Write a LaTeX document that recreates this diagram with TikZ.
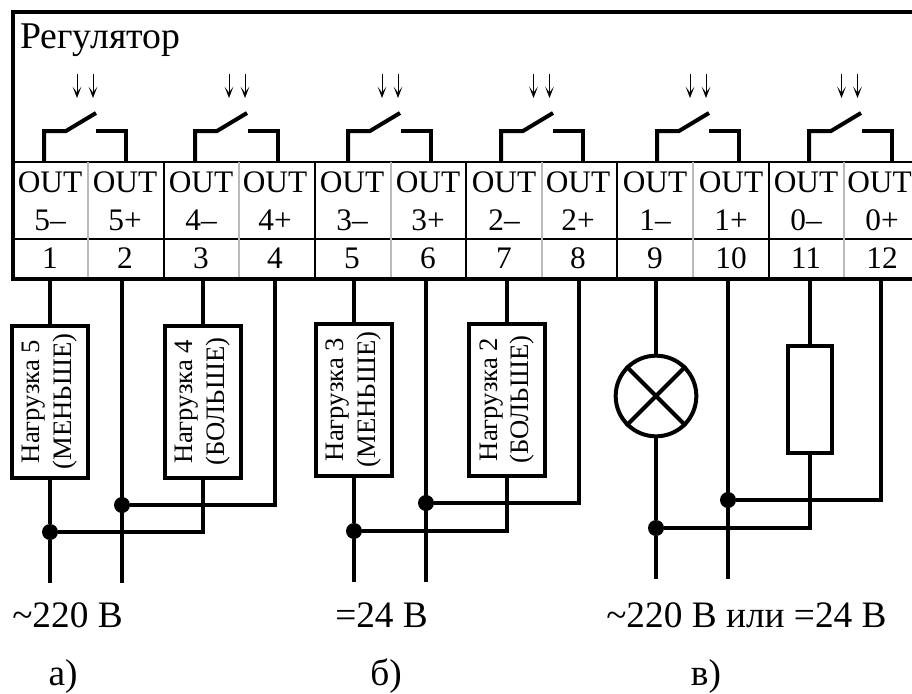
\documentclass[tikz,border=0pt]{standalone}
\usepackage{fontspec}
\setmainfont{Liberation Serif}
\usepackage{tikz}
\usetikzlibrary{arrows.meta}

\tikzset{
  wire/.style={line width=3pt},
  rowline/.style={line width=1.5pt},
  greyline/.style={line width=1pt,color=black!27},
  pointer/.style={line width=.7pt,-{Stealth[length=8.5pt,width=6.5pt,inset=4.5pt]}},
  cell/.style={inner sep=0pt,anchor=base,font=\fontsize{23.5}{24}\selectfont},
  caption/.style={inner sep=0pt,anchor=base,font=\fontsize{28}{28}\selectfont},
  load/.style={draw,line width=3pt,rotate=90,align=center,inner sep=0pt,
    minimum width=114pt,minimum height=57pt,font=\fontsize{20}{24}\selectfont},
  junction/.style={circle,fill=black,inner sep=0pt,minimum size=12pt}
}

\begin{document}
\begin{tikzpicture}[x=.75pt,y=-.75pt]
\useasboundingbox (0,0) rectangle (912,693);
% frame and cells
\draw[rowline] (13,162) -- (912,162);
\draw[rowline] (13,239) -- (912,239);
\foreach \x in {88,239,391,542,693,844}
    \draw[greyline] (\x,162) -- (\x,278);
\foreach \x in {164,315,466,617,769}
    \draw[rowline] (\x,162) -- (\x,278);
\draw[wire,line width=3.2pt,line cap=rect] (912,12) -- (13,12) -- (13,279) -- (912,279);
\node[caption,anchor=base west,font=\fontsize{28.3}{28}\selectfont] (title) at (20,48) {Регулятор};
% terminals
\foreach \n/\x/\o/\s in {1/50/50/5--,2/125/125/5+,3/201/201/4--,4/275/275/4+,5/352/352/3--,6/428/428/3+,
                      7/504/504/2--,8/578/578/2+,9/655/655/1--,10/731/731/1+,11/806/806/0--,12/882/879.5/0+}
{
    \node[cell] (out\n) at (\o,192) {OUT};
    \node[cell] (sign\n) at (\x,230) {\s};
    \node[cell] (num\n) at (\x,268) {\n};
}
% contacts
\foreach \l/\r/\a in {44/126/85,195/278/237,348/431/390,501/583/541.5,657/739/698,809/892/849.5}
{
    \draw[wire] (\l,162) -- (\l,131) -- (\l+22,131) -- (\l+52,113);
    \draw[wire] (\r-30,131) -- (\r,131) -- (\r,162);
    \coordinate (pa\l) at (\a-8,74);
    \coordinate (pb\l) at (\a+8,74);
    \draw[pointer] (pa\l) -- ++(0,24);
    \draw[pointer] (pb\l) -- ++(0,24);
}
% wire ends
\foreach \n/\x in {1/50,2/122,3/203,4/275,5/354,6/426,7/507,8/579,9/656,10/728,11/810,12/881}
    \coordinate (w\n) at (\x,281);
\coordinate (e1) at (50,583);
\coordinate (e2) at (122,583);
\coordinate (e5) at (354,582);
\coordinate (e6) at (426,582);
\coordinate (e9) at (656,579);
\coordinate (e10) at (728,579);
% loads
\node[load] (load5) at (50,401.5) {Нагрузка 5\\(МЕНЬШЕ)};
\node[load] (load4) at (203,401.5) {Нагрузка 4\\(БОЛЬШЕ)};
\node[load] (load3) at (354,399.5) {Нагрузка 3\\(МЕНЬШЕ)};
\node[load] (load2) at (507,399.5) {Нагрузка 2\\(БОЛЬШЕ)};
\node[draw,wire,circle,inner sep=0pt,minimum size=60.5pt] (lamp) at (656,396) {};
\draw[wire] (lamp.north west) -- (lamp.south east);
\draw[wire] (lamp.north east) -- (lamp.south west);
\node[draw,wire,inner sep=0pt,minimum width=32.5pt,minimum height=80pt] (res) at (810,399.5) {};
% junctions
\node[junction] (j1) at (50,532) {};
\node[junction] (j2) at (122,505) {};
\node[junction] (j5) at (354,531) {};
\node[junction] (j6) at (426,503) {};
\node[junction] (j9) at (656,528) {};
\node[junction] (j10) at (728,500) {};
% group a
\draw[wire] (w1) -- (load5.east);
\draw[wire] (load5.west) -- (j1) -- (e1);
\draw[wire] (w2) -- (e2);
\draw[wire] (w3) -- (load4.east);
\draw[wire] (j1) -| (load4.west);
\draw[wire] (j2) -| (w4);
% group b
\draw[wire] (w5) -- (load3.east);
\draw[wire] (load3.west) -- (j5) -- (e5);
\draw[wire] (w6) -- (e6);
\draw[wire] (w7) -- (load2.east);
\draw[wire] (j5) -| (load2.west);
\draw[wire] (j6) -| (w8);
% group c
\draw[wire] (w9) -- (lamp.north);
\draw[wire] (lamp.south) -- (j9) -- (e9);
\draw[wire] (w10) -- (e10);
\draw[wire] (w11) -- (res.north);
\draw[wire] (j9) -| (res.south);
\draw[wire] (j10) -| (w12);
% captions
\node[caption,anchor=base west] (volt1) at (12,627) {\char"7E 220 В};
\node[caption,anchor=base west] (volt2) at (335,627) {=24 В};
\node[caption,anchor=base west] (volt3) at (606,627) {\char"7E 220 В или =24 В};
\node[caption] (capa) at (63,685) {а)};
\node[caption] (capb) at (386,685) {б)};
\node[caption] (capc) at (706,685) {в)};
\end{tikzpicture}
\end{document}
